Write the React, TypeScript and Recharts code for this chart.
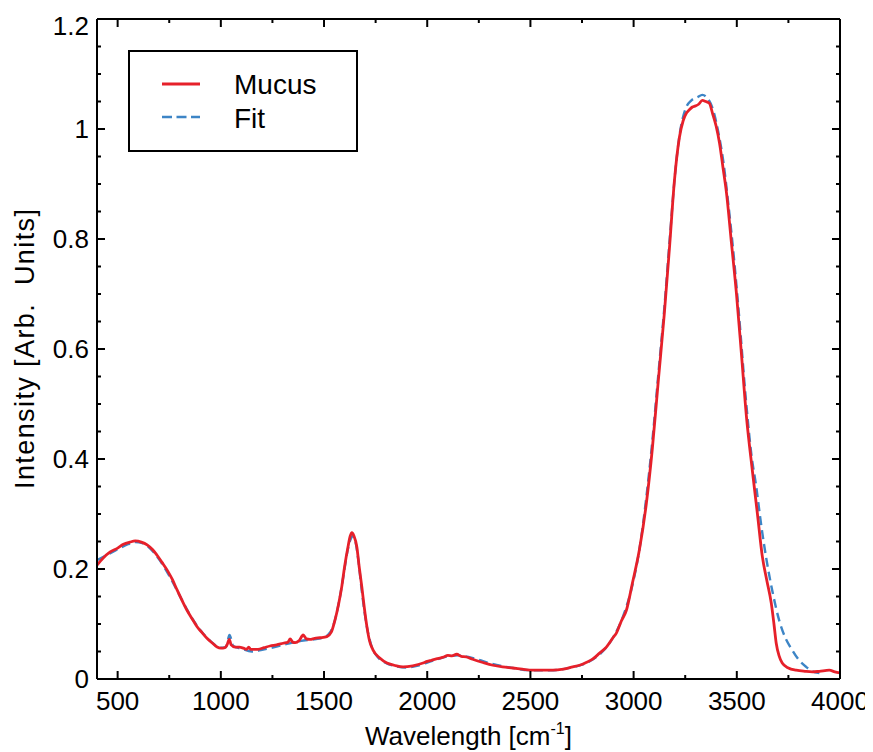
import React from "react";
import { LineChart, Line, XAxis, YAxis } from "recharts";

const mucusWavenumber = [
  400, 430, 464, 500, 528, 560, 585, 615, 643, 670, 691, 715, 740, 765, 788, 812, 836, 860, 885, 910, 933, 960, 982,
  1000, 1020, 1030, 1041, 1050, 1069, 1090, 1110, 1125, 1135, 1145, 1180, 1210, 1238, 1270, 1302, 1325, 1336, 1348,
  1360, 1380, 1399, 1415, 1432, 1455, 1481, 1514, 1535, 1553, 1570, 1586, 1600, 1616, 1627, 1635, 1645, 1659, 1670,
  1683, 1695, 1707, 1720, 1737, 1770, 1805, 1840, 1883, 1930, 1980, 2000, 2020, 2040, 2061, 2080, 2100, 2120, 2143,
  2165, 2190, 2220, 2270, 2318, 2365, 2415, 2460, 2511, 2560, 2608, 2660, 2705, 2738, 2770, 2801, 2835, 2868, 2900,
  2917, 2940, 2965, 2994, 3028, 3062, 3091, 3120, 3149, 3174, 3198, 3222, 3240, 3256, 3270, 3285, 3300, 3315, 3333,
  3350, 3367, 3382, 3400, 3416, 3433, 3450, 3474, 3498, 3522, 3546, 3575, 3600, 3624, 3645, 3667, 3680, 3691, 3705,
  3720, 3750, 3788, 3830, 3866, 3900, 3948, 3975, 4000,
];
const mucusIntensity = [
  0.207, 0.22, 0.231, 0.238, 0.245, 0.249, 0.251, 0.249, 0.244, 0.235, 0.225, 0.212, 0.198, 0.181, 0.162, 0.143, 0.125,
  0.11, 0.095, 0.084, 0.074, 0.065, 0.058, 0.056, 0.057, 0.062, 0.072, 0.062, 0.058, 0.058, 0.056, 0.054, 0.058, 0.054,
  0.054, 0.057, 0.06, 0.062, 0.065, 0.067, 0.073, 0.067, 0.066, 0.07, 0.08, 0.073, 0.072, 0.074, 0.075, 0.077, 0.085,
  0.107, 0.135, 0.168, 0.205, 0.24, 0.26, 0.266, 0.26, 0.24, 0.205, 0.168, 0.13, 0.097, 0.07, 0.053, 0.038, 0.029,
  0.025, 0.022, 0.024, 0.029, 0.032, 0.034, 0.036, 0.038, 0.04, 0.043, 0.042, 0.045, 0.041, 0.04, 0.036, 0.03, 0.025,
  0.022, 0.02, 0.018, 0.016, 0.016, 0.016, 0.018, 0.022, 0.025, 0.03, 0.036, 0.047, 0.058, 0.075, 0.084, 0.105, 0.125,
  0.174, 0.235, 0.32, 0.42, 0.544, 0.665, 0.785, 0.907, 0.985, 1.015, 1.029, 1.035, 1.04, 1.042, 1.045, 1.052, 1.05,
  1.047, 1.029, 1.005, 0.975, 0.93, 0.884, 0.793, 0.702, 0.593, 0.48, 0.38, 0.3, 0.222, 0.18, 0.138, 0.1, 0.065, 0.042,
  0.029, 0.02, 0.016, 0.014, 0.013, 0.014, 0.016, 0.013, 0.011,
];

const fitWavenumber = [
  400, 450, 500, 550, 585, 620, 650, 700, 750, 800, 850, 900, 950, 1000, 1025, 1042, 1060, 1100, 1150, 1200, 1250, 1300,
  1350, 1400, 1450, 1500, 1530, 1555, 1575, 1595, 1615, 1630, 1640, 1652, 1665, 1680, 1695, 1710, 1730, 1760, 1800,
  1850, 1900, 1950, 2000, 2050, 2100, 2150, 2200, 2250, 2300, 2400, 2500, 2600, 2700, 2750, 2800, 2850, 2900, 2950,
  3000, 3030, 3060, 3090, 3120, 3150, 3175, 3200, 3225, 3250, 3280, 3310, 3333, 3360, 3385, 3410, 3435, 3460, 3485,
  3510, 3546, 3570, 3594, 3620, 3647, 3675, 3705, 3735, 3768, 3800, 3836, 3866, 3900,
];
const fitIntensity = [
  0.216, 0.226, 0.236, 0.245, 0.249, 0.247, 0.24, 0.218, 0.188, 0.152, 0.117, 0.089, 0.069, 0.057, 0.058, 0.08, 0.06,
  0.055, 0.05, 0.053, 0.057, 0.062, 0.066, 0.07, 0.072, 0.076, 0.085, 0.11, 0.145, 0.19, 0.235, 0.255, 0.26, 0.25,
  0.22, 0.17, 0.125, 0.09, 0.06, 0.04, 0.029, 0.023, 0.021, 0.024, 0.03, 0.036, 0.041, 0.043, 0.04, 0.035, 0.029,
  0.021, 0.016, 0.016, 0.021, 0.026, 0.035, 0.05, 0.075, 0.115, 0.18, 0.24, 0.325, 0.43, 0.555, 0.68, 0.8, 0.915,
  0.995, 1.035, 1.052, 1.058, 1.062, 1.055, 1.035, 0.995, 0.94, 0.86, 0.77, 0.665, 0.5, 0.41, 0.35, 0.275, 0.21, 0.155,
  0.107, 0.075, 0.053, 0.035, 0.022, 0.014, 0.011,
];

const xTicks = [500, 750, 1000, 1250, 1500, 1750, 2000, 2250, 2500, 2750, 3000, 3250, 3500, 3750, 4000];
const xLabels = [500, 1000, 1500, 2000, 2500, 3000, 3500, 4000];
const yTicks = [
  0, 0.05, 0.1, 0.15, 0.2, 0.25, 0.3, 0.35, 0.4, 0.45, 0.5, 0.55, 0.6, 0.65, 0.7, 0.75, 0.8, 0.85, 0.9, 0.95, 1, 1.05,
  1.1, 1.15, 1.2,
];
const yLabels = [0, 0.2, 0.4, 0.6, 0.8, 1, 1.2];

const seriesNames = ["Mucus", "Fit"];
const xTitle = "Wavelength [cm";
const yTitle = "Intensity [Arb.\u00a0\u00a0Units]";

const mucusData = mucusWavenumber.map((w, i) => ({ w, v: mucusIntensity[i] }));
const fitData = fitWavenumber.map((w, i) => ({ w, v: fitIntensity[i] }));

const FONT = "'Liberation Sans', Arial, Helvetica, sans-serif";
const RED = "#e6202a";
const BLUE = "#3d85c6";
const W = 865;
const H = 744;
// plot area: left 89, top 11, right 832, bottom 671 (chart coords)
const MARGIN = { top: 10, right: 32, bottom: 72, left: 88 };
const PLOT_TOP = 11;
const PLOT_BOTTOM = 671;
const PLOT_MID_Y = 341;

const BottomTick = (props: any) => {
  const { x, y, payload } = props;
  const major = xLabels.includes(payload.value);
  return (
    <g>
      <line x1={x} x2={x} y1={y} y2={y - (major ? 8 : 4)} stroke="#000" strokeWidth={2} />
      {major && (
        <text x={x} y={y + 31} textAnchor="middle" fontSize={26} fontFamily={FONT} fill="#000">
          {payload.value}
        </text>
      )}
    </g>
  );
};
const TopTick = (props: any) => {
  const { x, y, payload } = props;
  const major = xLabels.includes(payload.value);
  return <line x1={x} x2={x} y1={y} y2={y + (major ? 8 : 4)} stroke="#000" strokeWidth={2} />;
};
const LeftTick = (props: any) => {
  const { x, y, payload } = props;
  const major = yLabels.includes(payload.value);
  // keep the topmost label inside the picture, as in the reference
  const baseline = Math.max(y + 9, PLOT_TOP + 16);
  return (
    <g>
      <line x1={x} x2={x + (major ? 8 : 4)} y1={y} y2={y} stroke="#000" strokeWidth={2} />
      {major && (
        <text x={x - 8} y={baseline} textAnchor="end" fontSize={26} fontFamily={FONT} fill="#000">
          {String(payload.value)}
        </text>
      )}
    </g>
  );
};
const RightTick = (props: any) => {
  const { x, y, payload } = props;
  const major = yLabels.includes(payload.value);
  return <line x1={x} x2={x - (major ? 8 : 4)} y1={y} y2={y} stroke="#000" strokeWidth={2} />;
};

const XTitle = (props: any) => {
  const vb = props.viewBox || props;
  const cx = (vb.x ?? 89) + (vb.width ?? 743) / 2;
  return (
    <text x={cx} y={PLOT_BOTTOM + 66} textAnchor="middle" fontSize={26} fontFamily={FONT} fill="#000">
      {xTitle}
      <tspan fontSize={16} dy={-11}>-1</tspan>
      <tspan dy={11}>]</tspan>
    </text>
  );
};
const YTitle = () => {
  const cx = 17;
  const cy = PLOT_MID_Y;
  return (
    <text
      x={cx}
      y={cy}
      transform={`rotate(-90 ${cx} ${cy})`}
      textAnchor="middle"
      dominantBaseline="central"
      fontSize={27}
      fontFamily={FONT}
      fill="#000"
      textLength={280}
      lengthAdjust="spacing"
    >
      {yTitle}
    </text>
  );
};

const axisLine = { stroke: "#000", strokeWidth: 2 };

export default function App() {
  return (
    <div style={{ position: "relative", width: W, height: H }}>
      <LineChart width={W} height={H} margin={MARGIN}>
        <XAxis
          xAxisId="bottom"
          dataKey="w"
          type="number"
          domain={[400, 4000]}
          ticks={xTicks}
          interval={0}
          height={1}
          tickSize={0}
          tickMargin={0}
          tickLine={false}
          axisLine={axisLine}
          tick={<BottomTick />}
          label={<XTitle />}
          allowDataOverflow
        />
        <XAxis
          xAxisId="top"
          orientation="top"
          dataKey="w"
          type="number"
          domain={[400, 4000]}
          ticks={xTicks}
          interval={0}
          height={1}
          tickSize={0}
          tickMargin={0}
          tickLine={false}
          axisLine={axisLine}
          tick={<TopTick />}
          allowDataOverflow
        />
        <YAxis
          yAxisId="left"
          type="number"
          domain={[0, 1.2]}
          ticks={yTicks}
          interval={0}
          width={1}
          tickSize={0}
          tickMargin={0}
          tickLine={false}
          axisLine={axisLine}
          tick={<LeftTick />}
          label={<YTitle />}
          allowDataOverflow
        />
        <YAxis
          yAxisId="right"
          orientation="right"
          type="number"
          domain={[0, 1.2]}
          ticks={yTicks}
          interval={0}
          width={1}
          tickSize={0}
          tickMargin={0}
          tickLine={false}
          axisLine={axisLine}
          tick={<RightTick />}
          allowDataOverflow
        />
        <Line
          xAxisId="bottom"
          yAxisId="left"
          data={fitData}
          dataKey="v"
          name={seriesNames[1]}
          type="monotone"
          stroke={BLUE}
          strokeWidth={2.4}
          strokeDasharray="9 5"
          dot={false}
          isAnimationActive={false}
        />
        <Line
          xAxisId="bottom"
          yAxisId="left"
          data={mucusData}
          dataKey="v"
          name={seriesNames[0]}
          type="monotone"
          stroke={RED}
          strokeWidth={2.8}
          dot={false}
          isAnimationActive={false}
        />
      </LineChart>
      <svg
        width={232}
        height={104}
        style={{ position: "absolute", left: 119, top: 41, overflow: "visible" }}
      >
        <rect x={2} y={2} width={228} height={100} fill="#fff" stroke="#000" strokeWidth={2} />
        <line x1={35} x2={73} y1={35} y2={35} stroke={RED} strokeWidth={2.8} />
        <text x={107} y={45} fontSize={28} fontFamily={FONT} fill="#000">
          {seriesNames[0]}
        </text>
        <line x1={35} x2={73} y1={68} y2={68} stroke={BLUE} strokeWidth={2.4} strokeDasharray="10 4.5" />
        <text x={107} y={79} fontSize={28} fontFamily={FONT} fill="#000">
          {seriesNames[1]}
        </text>
      </svg>
    </div>
  );
}
